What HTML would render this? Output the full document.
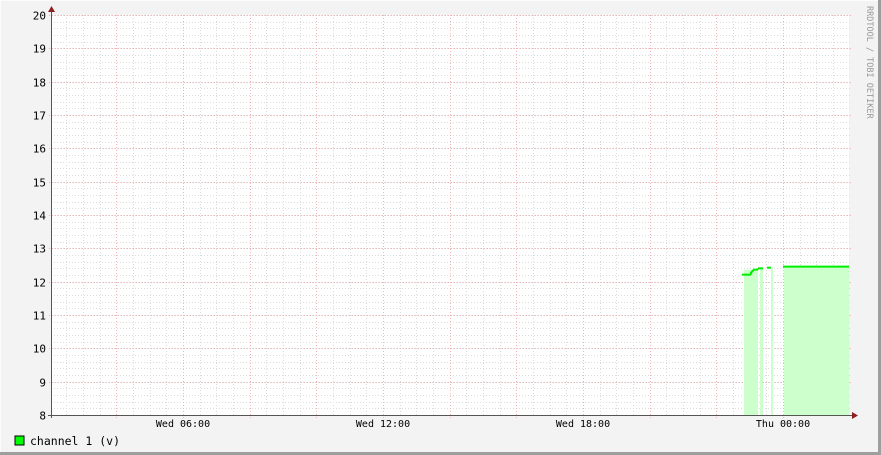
<!DOCTYPE html>
<html><head><meta charset="utf-8"><style>
html,body{margin:0;padding:0;background:#f3f3f3}
svg{display:block;font-family:"DejaVu Sans Mono","Liberation Mono",monospace}
</style></head><body>
<svg id="c" width="881" height="455" xmlns="http://www.w3.org/2000/svg">
<rect x="0" y="0" width="881" height="455" fill="#f3f3f3"/>
<rect x="0" y="0" width="881" height="1" fill="#fcfcfc"/>
<rect x="0" y="0" width="1" height="455" fill="#fcfcfc"/>
<rect x="878" y="0" width="3" height="455" fill="#9e9e9e"/>
<rect x="0" y="452" width="881" height="3" fill="#9e9e9e"/>
<rect x="51" y="15" width="798" height="400" fill="#ffffff"/>
<g id="grid"></g><g id="series"></g><g id="axes"></g>
<text x="867" y="6" transform="rotate(90 867 6)" font-size="8.5" fill="#999">RRDTOOL / TOBI OETIKER</text>
<rect x="15" y="436" width="9" height="9" fill="#00ff00" stroke="#000" stroke-width="1"/>
<text x="30" y="445" font-size="11.5" fill="#000">channel 1 (v)</text>
</svg>
<script>
// hours relative to Thu 00:00
const xStartH = -21.96, xEndH = 1.98;
const yMin = 8, yMax = 20;
const yTicks = [8,9,10,11,12,13,14,15,16,17,18,19,20];
const xLabelHours = [-18,-12,-6,0];
const xLabels = ["Wed 06:00","Wed 12:00","Wed 18:00","Thu 00:00"];
// step segments: start hour, end hour, value
const segStart = [-1.23,-0.96,-0.90,-0.75,-0.48,0.0];
const segEnd   = [-0.96,-0.90,-0.75,-0.60,-0.36,1.98];
const segValue = [12.21,12.30,12.36,12.40,12.42,12.45];
// filled areas
const fillStart = [-1.17,-0.69,-0.36,0.03];
const fillEnd   = [-0.75,-0.60,-0.30,1.98];
const fillValue = [12.36,12.40,12.42,12.45];

const X0=51,X1=849,Y0=415,Y1=15;
const x=h=>X0+(h-xStartH)/(xEndH-xStartH)*(X1-X0);
const y=v=>Y0-(v-yMin)/(yMax-yMin)*(Y0-Y1);
const NS="http://www.w3.org/2000/svg";
function mk(t,a,p){const e=document.createElementNS(NS,t);for(const k in a)e.setAttribute(k,a[k]);p.appendChild(e);return e;}
const grid=document.getElementById('grid'),ser=document.getElementById('series'),ax=document.getElementById('axes');
const MINOR='#dcdcdc', MAJOR='#f2b4b4';
for(let v=yMin;v<=yMax+1e-9;v+=0.2){const yy=Math.round(y(v))+0.5;
 const l=mk('line',{x1:X0,x2:X1+3,y1:yy,y2:yy,stroke:MINOR,'stroke-dasharray':'1,2','stroke-width':1},grid);
 }
for(let h=Math.ceil(xStartH*2)/2;h<=xEndH;h+=0.5){const xx=Math.round(x(h))+0.5;
 const l=mk('line',{x1:xx,x2:xx,y1:Y1,y2:Y0+2,stroke:MINOR,'stroke-dasharray':'1,2'},grid);
 }
for(let h=Math.ceil(xStartH/2)*2;h<=xEndH;h+=2){const xx=Math.round(x(h))+0.5;
 const l=mk('line',{x1:xx,x2:xx,y1:Y1,y2:Y0+3,stroke:MAJOR,'stroke-dasharray':'1,2'},grid);
 }
yTicks.forEach(v=>{const yy=Math.round(y(v))+0.5;
 const l=mk('line',{x1:X0-2,x2:X1+3,y1:yy,y2:yy,stroke:MAJOR,'stroke-dasharray':'1,2'},grid);
 
 const t=mk('text',{x:46,y:yy+4,'text-anchor':'end','font-size':11,fill:'#000'},ax);t.textContent=v;
 });
xLabelHours.forEach((h,i)=>{const t=mk('text',{x:x(h),y:427,'text-anchor':'middle','font-size':10,fill:'#000'},ax);t.textContent=xLabels[i];
 });
fillStart.forEach((s,i)=>{const r=mk('rect',{x:x(s),y:y(fillValue[i]),width:x(fillEnd[i])-x(s),height:Y0-y(fillValue[i]),fill:'#ccffcc'},ser);
 });
segStart.forEach((s,i)=>{const yy=y(segValue[i]);
 const l=mk('line',{x1:x(s),x2:x(segEnd[i]),y1:yy,y2:yy,stroke:'#00ee00','stroke-width':2},ser);
 
 if(i>0&&Math.abs(segEnd[i-1]-s)<1e-6){const v=mk('line',{x1:x(s),x2:x(s),y1:y(segValue[i-1]),y2:yy,stroke:'#00ee00','stroke-width':2},ser);
 }});
let a=mk('line',{x1:X0-3,x2:X1+4,y1:Y0+0.5,y2:Y0+0.5,stroke:'#555'},ax);
a=mk('line',{x1:X0+0.5,x2:X0+0.5,y1:Y1-3,y2:Y0+3,stroke:'#555'},ax);
a=mk('polygon',{points:`${X1+3},${Y0-3} ${X1+9},${Y0+0.5} ${X1+3},${Y0+4}`,fill:'#902020'},ax);
a=mk('polygon',{points:`${X0-3},${Y1-3} ${X0+0.5},${Y1-9} ${X0+4},${Y1-3}`,fill:'#902020'},ax);
</script>
</body></html>
